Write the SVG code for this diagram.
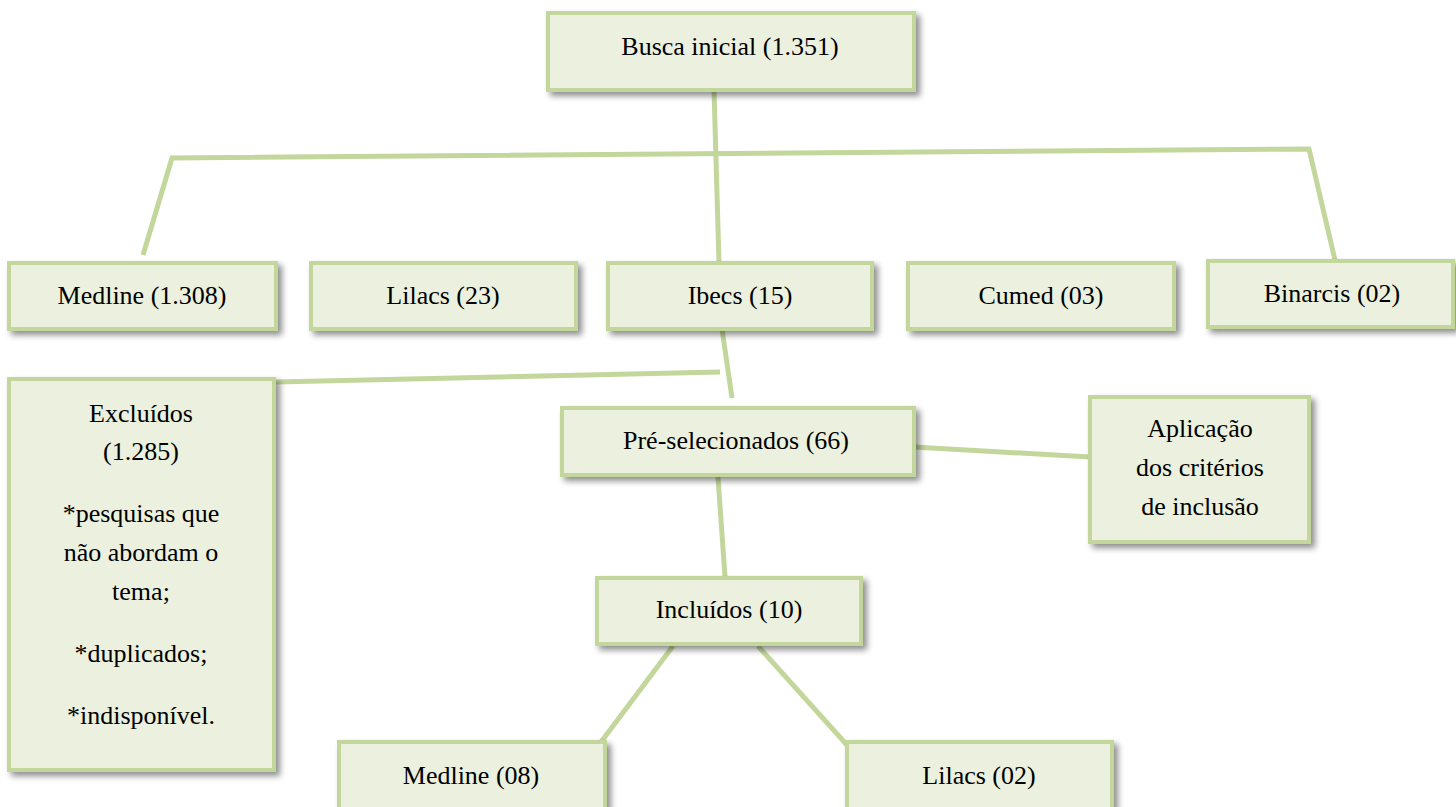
<svg xmlns="http://www.w3.org/2000/svg" width="1456" height="807" viewBox="0 0 1456 807">
<defs>
<filter id="sh" x="-10%" y="-10%" width="130%" height="140%">
<feGaussianBlur in="SourceAlpha" stdDeviation="3"/>
<feOffset dx="4" dy="4" result="b"/>
<feComponentTransfer><feFuncA type="linear" slope="0.45"/></feComponentTransfer>
<feMerge><feMergeNode/><feMergeNode in="SourceGraphic"/></feMerge>
</filter>
<style>
.box{fill:#EBF1DE;stroke:#C3D69B;stroke-width:4;filter:url(#sh)}
text{font-family:"Liberation Serif",serif;font-size:26px;fill:#000;text-anchor:middle}
.c{stroke:#C3D69B;stroke-width:5;fill:none;stroke-linecap:butt}
</style>
</defs>
<rect width="1456" height="807" fill="#fff"/>
<g id="connectors">
<line class="c" x1="714" y1="90" x2="719" y2="263"/>
<polyline class="c" points="143,255 172,158 1309,149 1335,260"/>
<line class="c" x1="722" y1="329" x2="732" y2="398"/>
<line class="c" x1="276" y1="382" x2="720" y2="372"/>
<line class="c" x1="914" y1="447" x2="1090" y2="457"/>
<line class="c" x1="718" y1="477" x2="725" y2="577"/>
<line class="c" x1="673" y1="646" x2="601" y2="742"/>
<line class="c" x1="758" y1="646" x2="847" y2="745"/>
</g>
<g id="busca"><rect class="box" x="548" y="13" width="366" height="77"/><text x="730" y="55">Busca inicial (1.351)</text></g>
<g id="medline1"><rect class="box" x="9" y="263" width="267" height="66"/><text x="142" y="304">Medline (1.308)</text></g>
<g id="lilacs1"><rect class="box" x="311" y="263" width="265" height="66"/><text x="443" y="304">Lilacs (23)</text></g>
<g id="ibecs"><rect class="box" x="608" y="263" width="264" height="66"/><text x="740" y="304">Ibecs (15)</text></g>
<g id="cumed"><rect class="box" x="908" y="263" width="266" height="66"/><text x="1041" y="304">Cumed (03)</text></g>
<g id="binarcis"><rect class="box" x="1208" y="261" width="245" height="66"/><text x="1332" y="302">Binarcis (02)</text></g>
<g id="excluidos"><rect class="box" x="9" y="379" width="265" height="391"/>
<text x="141" y="422">Excluídos</text>
<text x="141" y="460">(1.285)</text>
<text x="141" y="522">*pesquisas que</text>
<text x="141" y="561">não abordam o</text>
<text x="141" y="600">tema;</text>
<text x="141" y="662">*duplicados;</text>
<text x="141" y="724">*indisponível.</text>
</g>
<g id="preselecionados"><rect class="box" x="562" y="408" width="352" height="67"/><text x="736" y="449">Pré-selecionados (66)</text></g>
<g id="aplicacao"><rect class="box" x="1090" y="397" width="219" height="145"/>
<text x="1200" y="437">Aplicação</text>
<text x="1200" y="476">dos critérios</text>
<text x="1200" y="515">de inclusão</text>
</g>
<g id="incluidos"><rect class="box" x="597" y="578" width="264" height="66"/><text x="729" y="618">Incluídos (10)</text></g>
<g id="medline2"><rect class="box" x="339" y="742" width="266" height="80"/><text x="471" y="784">Medline (08)</text></g>
<g id="lilacs2"><rect class="box" x="847" y="742" width="265" height="80"/><text x="979" y="784">Lilacs (02)</text></g>
</svg>
